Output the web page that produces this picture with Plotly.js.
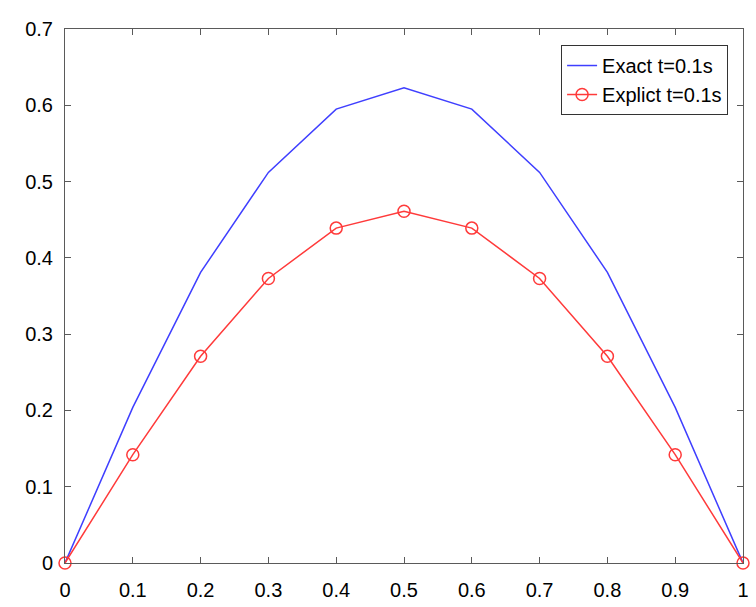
<!DOCTYPE html>
<html>
<head>
<meta charset="utf-8">
<script src="https://cdn.plot.ly/plotly-3.0.1.min.js"></script>
<style>html,body{margin:0;padding:0;background:#fff;}#chart{width:756px;height:607px;}</style>
</head>
<body>
<div id="chart"></div>
<script>
const xVals = [0, 0.1, 0.2, 0.3, 0.4, 0.5, 0.6, 0.7, 0.8, 0.9, 1];
const exactVals = [0, 0.204, 0.381, 0.512, 0.595, 0.623, 0.595, 0.512, 0.381, 0.204, 0];
const explicitVals = [0, 0.142, 0.271, 0.373, 0.439, 0.461, 0.439, 0.373, 0.271, 0.142, 0];
const seriesNames = ["Exact t=0.1s", "Explict t=0.1s"];
const xTicks = [0, 0.1, 0.2, 0.3, 0.4, 0.5, 0.6, 0.7, 0.8, 0.9, 1];
const xTickText = ["0", "0.1", "0.2", "0.3", "0.4", "0.5", "0.6", "0.7", "0.8", "0.9", "1"];
const yTicks = [0, 0.1, 0.2, 0.3, 0.4, 0.5, 0.6, 0.7];
const yTickText = ["0", "0.1", "0.2", "0.3", "0.4", "0.5", "0.6", "0.7"];

const axisCommon = {
  showline: true, mirror: 'ticks', linecolor: '#5a5a5a', linewidth: 1,
  ticks: 'inside', ticklen: 6, tickcolor: '#5a5a5a', tickwidth: 1,
  showgrid: false, zeroline: false,
  tickfont: {family: 'Liberation Sans, Arial, sans-serif', size: 20, color: '#000'},
  tickmode: 'array'
};

const traces = [
  {x: xVals, y: exactVals, name: seriesNames[0], mode: 'lines',
   line: {color: '#3f3fff', width: 1.5}},
  {x: xVals, y: explicitVals, name: seriesNames[1], mode: 'lines+markers',
   line: {color: '#ff3a3a', width: 1.5},
   marker: {symbol: 'circle-open', size: 12, color: '#ff3a3a', line: {width: 1.5, color: '#ff3a3a'}},
   cliponaxis: false}
];

const layout = {
  width: 756, height: 607,
  margin: {l: 65, r: 13, t: 29, b: 44},
  paper_bgcolor: '#fff', plot_bgcolor: '#fff',
  showlegend: true,
  legend: {x: 0.978, y: 0.970, xanchor: 'right', yanchor: 'top',
    bordercolor: '#333', borderwidth: 1, bgcolor: '#fff',
    font: {family: 'Liberation Sans, Arial, sans-serif', size: 20, color: '#000'},
    tracegroupgap: 0, itemwidth: 30},
  xaxis: Object.assign({}, axisCommon, {range: [0, 1], tickvals: xTicks, ticktext: xTickText, ticklabelstandoff: 9}),
  yaxis: Object.assign({}, axisCommon, {range: [0, 0.7], tickvals: yTicks, ticktext: yTickText, ticklabelstandoff: 7})
};

Plotly.newPlot('chart', traces, layout, {displayModeBar: false, staticPlot: true});
</script>
</body>
</html>
